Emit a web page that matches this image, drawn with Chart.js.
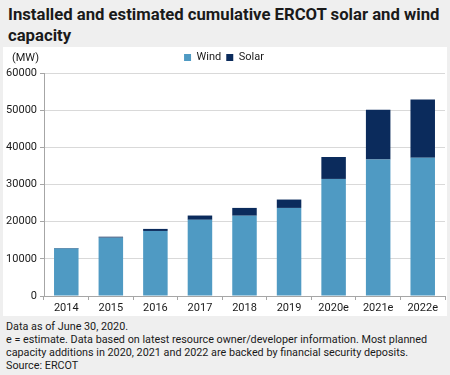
<!DOCTYPE html>
<html>
<head>
<meta charset="utf-8">
<script src="https://cdn.jsdelivr.net/npm/chart.js@4"></script>
<style>
  body { margin: 0; width: 450px; height: 375px; background: #efefef; font-family: Roboto, "Liberation Sans", sans-serif; color: #1a1a1a; overflow: hidden; }
  #title { position: absolute; left: 8px; top: 4px; white-space: nowrap; font-size: 16.7px; font-weight: 700; line-height: 21px; }
  #panel { position: absolute; left: 3px; top: 47px; width: 444px; height: 269px; background: #fff; }
  #unit { position: absolute; left: 9px; top: 4px; font-size: 11px; }
  #notes { position: absolute; left: 6px; top: 320px; font-size: 10.8px; line-height: 13px; white-space: nowrap; }
</style>
</head>
<body>
<div id="title">Installed and estimated cumulative ERCOT solar and wind<br>capacity</div>
<div id="panel">
  <div id="unit">(MW)</div>
  <canvas id="chart" width="444" height="269"></canvas>
</div>
<div id="notes">Data as of June 30, 2020.<br>e = estimate. Data based on latest resource owner/developer information. Most planned<br>capacity additions in 2020, 2021 and 2022 are backed by financial security deposits.<br>Source: ERCOT</div>
<script>
// 年份
const years = ["2014", "2015", "2016", "2017", "2018", "2019", "2020e", "2021e", "2022e"];
// 風力 / 太陽能 (MW)
const wind = [12750, 15700, 17500, 20500, 21600, 23700, 31500, 36700, 37200];
const solar = [150, 250, 550, 1150, 2100, 2250, 5900, 13400, 15700];
const yTicks = [0, 10000, 20000, 30000, 40000, 50000, 60000];

// 固定圖例高度
const legendHeight = {
  id: "legendHeight",
  beforeInit(chart) {
    const fit = chart.legend.fit;
    chart.legend.fit = function () {
      fit.bind(chart.legend)();
      this.height = 26;
    };
  },
};

new Chart(document.getElementById("chart"), {
  type: "bar",
  data: {
    labels: years,
    datasets: [
      { label: "Wind", data: wind, backgroundColor: "#4f9ac3" },
      { label: "Solar", data: solar, backgroundColor: "#0b2b5c" },
    ],
  },
  options: {
    responsive: false,
    animation: false,
    layout: { padding: { left: 0, right: 2, top: 0, bottom: 0 } },
    datasets: { bar: { categoryPercentage: 1, barPercentage: 0.55 } },
    plugins: {
      legend: {
        labels: {
          boxWidth: 7,
          boxHeight: 7,
          padding: 5,
          color: "#1a1a1a",
          font: { family: "Roboto", size: 11 },
        },
      },
      tooltip: { enabled: false },
    },
    scales: {
      x: {
        stacked: true,
        afterFit: (scale) => { scale.height = 20; },
        border: { color: "#a6a6a6" },
        grid: { drawOnChartArea: false, tickLength: 4, color: "#a6a6a6" },
        ticks: { color: "#1a1a1a", padding: 2, font: { family: "Roboto", size: 11 } },
      },
      y: {
        stacked: true,
        min: 0,
        max: 60000,
        afterFit: (scale) => { scale.width = 41; },
        afterBuildTicks: (scale) => { scale.ticks = yTicks.map((v) => ({ value: v })); },
        border: { color: "#a6a6a6" },
        grid: { color: "#d9d9d9", tickLength: 4, tickColor: "#a6a6a6" },
        ticks: { color: "#1a1a1a", padding: 3, font: { family: "Roboto", size: 11 }, callback: (v) => String(v) },
      },
    },
  },
  plugins: [legendHeight],
});
</script>
</body>
</html>
